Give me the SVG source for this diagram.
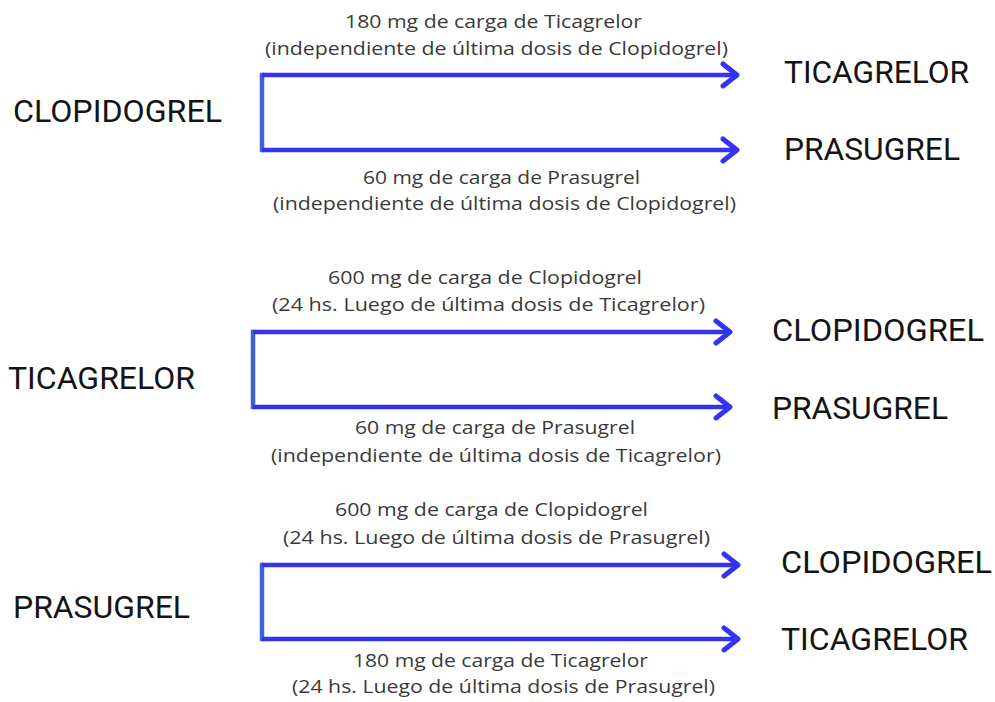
<svg xmlns="http://www.w3.org/2000/svg" width="995" height="702" viewBox="0 0 995 702">
  <style>
    .big { font-family: Roboto, "Liberation Sans", sans-serif; font-size: 31px; fill: #141414; }
    .lbl { font-family: "Open Sans", "Liberation Sans", sans-serif; font-size: 19px; fill: #3a3a3a; }
    .arm { fill: none; stroke: #3434f0; stroke-width: 4.5; marker-end: url(#ah); }
    .bar { fill: none; stroke: #3f63cf; stroke-width: 4.5; stroke-linecap: square; }
  </style>
  <defs>
    <marker id="ah" viewBox="0 0 22 28" refX="18" refY="14" markerWidth="22" markerHeight="28" markerUnits="userSpaceOnUse" orient="auto">
      <path d="M4,3 L18,14 L4,25" fill="none" stroke="#3434f0" stroke-width="5" stroke-linecap="round" stroke-linejoin="round"/>
    </marker>
  </defs>
  <rect x="0" y="0" width="995" height="702" fill="#ffffff"/>

  <g id="connectors">
    <path class="bar" d="M262,75 V150"/>
    <path class="arm" d="M262,75 H737"/>
    <path class="arm" d="M262,150 H737"/>
    <path class="bar" d="M253,332 V407"/>
    <path class="arm" d="M253,332 H730"/>
    <path class="arm" d="M253,407 H730"/>
    <path class="bar" d="M262,565 V639"/>
    <path class="arm" d="M262,565 H738"/>
    <path class="arm" d="M262,639 H738"/>
  </g>

  <g id="labels">
    <text class="lbl" x="345" y="28" textLength="297" lengthAdjust="spacingAndGlyphs">180 mg de carga de Ticagrelor</text>
    <text class="lbl" x="265" y="55" textLength="463" lengthAdjust="spacingAndGlyphs">(independiente de última dosis de Clopidogrel)</text>
    <text class="lbl" x="363" y="184" textLength="277" lengthAdjust="spacingAndGlyphs">60 mg de carga de Prasugrel</text>
    <text class="lbl" x="273" y="210" textLength="463" lengthAdjust="spacingAndGlyphs">(independiente de última dosis de Clopidogrel)</text>

    <text class="lbl" x="328" y="284" textLength="314" lengthAdjust="spacingAndGlyphs">600 mg de carga de Clopidogrel</text>
    <text class="lbl" x="272" y="311" textLength="433" lengthAdjust="spacingAndGlyphs">(24 hs. Luego de última dosis de Ticagrelor)</text>
    <text class="lbl" x="355" y="434" textLength="280" lengthAdjust="spacingAndGlyphs">60 mg de carga de Prasugrel</text>
    <text class="lbl" x="271" y="462" textLength="450" lengthAdjust="spacingAndGlyphs">(independiente de última dosis de Ticagrelor)</text>

    <text class="lbl" x="335" y="516" textLength="313" lengthAdjust="spacingAndGlyphs">600 mg de carga de Clopidogrel</text>
    <text class="lbl" x="283" y="544" textLength="427" lengthAdjust="spacingAndGlyphs">(24 hs. Luego de última dosis de Prasugrel)</text>
    <text class="lbl" x="353" y="667" textLength="295" lengthAdjust="spacingAndGlyphs">180 mg de carga de Ticagrelor</text>
    <text class="lbl" x="292" y="693" textLength="423" lengthAdjust="spacingAndGlyphs">(24 hs. Luego de última dosis de Prasugrel)</text>
  </g>

  <g id="n-clopidogrel-1"><text class="big" x="13" y="122" textLength="209" lengthAdjust="spacingAndGlyphs">CLOPIDOGREL</text></g>
  <g id="n-ticagrelor-1"><text class="big" x="784" y="83" textLength="185" lengthAdjust="spacingAndGlyphs">TICAGRELOR</text></g>
  <g id="n-prasugrel-1"><text class="big" x="784" y="160" textLength="176" lengthAdjust="spacingAndGlyphs">PRASUGREL</text></g>

  <g id="n-ticagrelor-2"><text class="big" x="8" y="389" textLength="187" lengthAdjust="spacingAndGlyphs">TICAGRELOR</text></g>
  <g id="n-clopidogrel-2"><text class="big" x="772" y="341" textLength="212" lengthAdjust="spacingAndGlyphs">CLOPIDOGREL</text></g>
  <g id="n-prasugrel-2"><text class="big" x="772" y="419" textLength="176" lengthAdjust="spacingAndGlyphs">PRASUGREL</text></g>

  <g id="n-prasugrel-3"><text class="big" x="13" y="618" textLength="177" lengthAdjust="spacingAndGlyphs">PRASUGREL</text></g>
  <g id="n-clopidogrel-3"><text class="big" x="781" y="573" textLength="211" lengthAdjust="spacingAndGlyphs">CLOPIDOGREL</text></g>
  <g id="n-ticagrelor-3"><text class="big" x="781" y="650" textLength="187" lengthAdjust="spacingAndGlyphs">TICAGRELOR</text></g>
</svg>
